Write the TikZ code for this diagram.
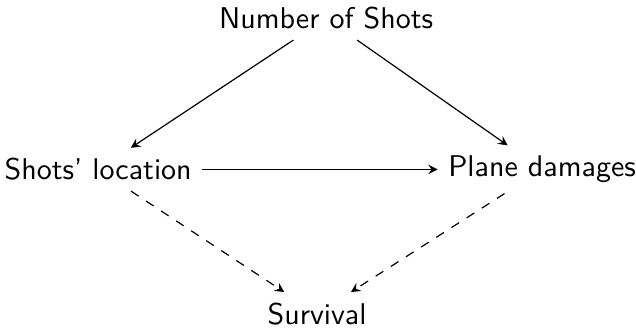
\documentclass[tikz,border=0pt]{standalone}
\usepackage{amsmath, amssymb}
\begin{document}
\begin{tikzpicture}[>=stealth, font=\sffamily]
\useasboundingbox (0, 0) rectangle (7.45, 3.855);
\node (0) at (3.82, 3.64) {Number of Shots};
\node (1) at (1.15, 1.87) {Shots' location};
\node (2) at (6.35, 1.87) {Plane damages};
\node (3) at (3.715, 0.18) {Survival};
\draw[->] (0) -- (1);
\draw[->] (0) -- (2);
\draw[->] (1) -- (2);
\draw[->, dashed] (1) -- (3);
\draw[->, dashed] (2) -- (3);
\end{tikzpicture}
\end{document}
